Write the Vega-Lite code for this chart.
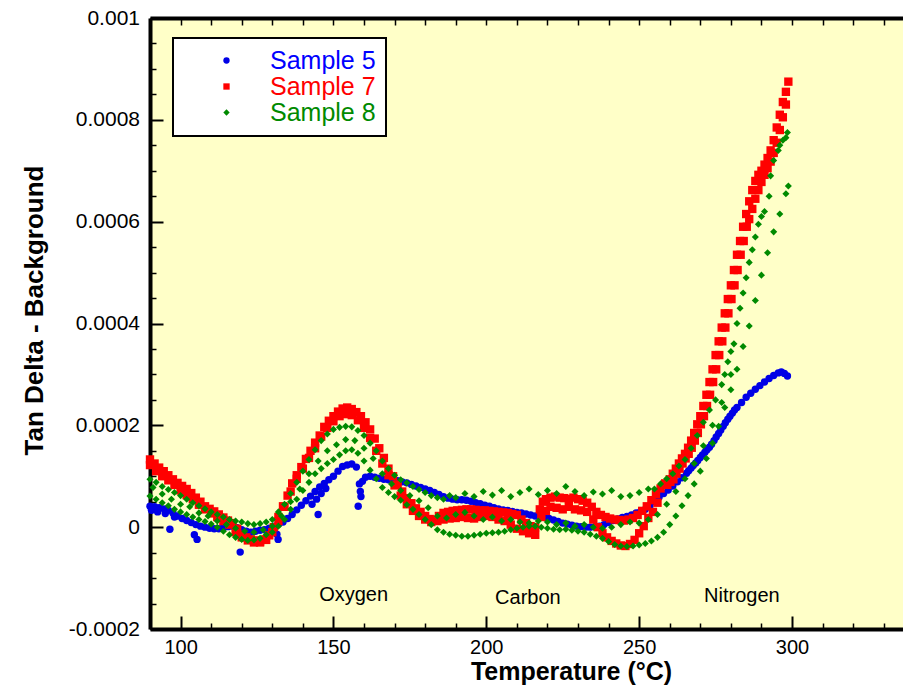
{
"$schema":"https://vega.github.io/schema/vega-lite/v6.json",
"width":753,"height":611,
"autosize":"none",
"padding":{"left":150,"top":18,"right":0,"bottom":57},
"background":"white",
"config":{"font":"Liberation Sans","view":{"fill":"#ffffc8","stroke":null},
 "axis":{"domainColor":"black","domainWidth":4,"tickColor":"black","labelColor":"black","titleColor":"black","grid":false,"labelFont":"Liberation Sans","titleFont":"Liberation Sans"},
 "legend":{"strokeWidth":2}},
"datasets":{
"s5":[{"t":90,"v":0.41e-4},{"t":91.5,"v":0.40e-4},{"t":93,"v":0.38e-4},{"t":94.5,"v":0.36e-4},{"t":96,"v":0.33e-4},{"t":97.5,"v":0.28e-4},{"t":99,"v":0.22e-4},{"t":100.5,"v":0.17e-4},{"t":102,"v":0.13e-4},{"t":103.5,"v":0.09e-4},{"t":105,"v":0.05e-4},{"t":106.5,"v":0.02e-4},{"t":108,"v":0},{"t":109.5,"v":-0.02e-4},{"t":111,"v":-0.03e-4},{"t":112.5,"v":-0.03e-4},{"t":114,"v":-0.01e-4},{"t":115.5,"v":0.01e-4},{"t":117,"v":0.02e-4},{"t":118.5,"v":-0.01e-4},{"t":120,"v":-0.05e-4},{"t":121.5,"v":-0.08e-4},{"t":123,"v":-0.10e-4},{"t":124.5,"v":-0.08e-4},{"t":126,"v":-0.06e-4},{"t":127.5,"v":-0.05e-4},{"t":129,"v":-0.02e-4},{"t":130.5,"v":0.02e-4},{"t":132,"v":0.06e-4},{"t":133.5,"v":0.10e-4},{"t":135,"v":0.17e-4},{"t":136.5,"v":0.25e-4},{"t":138,"v":0.34e-4},{"t":139.5,"v":0.43e-4},{"t":141,"v":0.52e-4},{"t":142.5,"v":0.61e-4},{"t":144,"v":0.70e-4},{"t":145.5,"v":0.79e-4},{"t":147,"v":0.86e-4},{"t":148.5,"v":0.93e-4},{"t":150,"v":1.00e-4},{"t":151.5,"v":1.10e-4},{"t":153,"v":1.19e-4},{"t":154.5,"v":1.22e-4},{"t":156,"v":1.24e-4},{"t":157.5,"v":1.18e-4},{"t":158.5,"v":0.85e-4},{"t":159.5,"v":0.90e-4},{"t":160.5,"v":0.98e-4},{"t":162,"v":1.00e-4},{"t":163.5,"v":0.98e-4},{"t":165,"v":0.96e-4},{"t":166.5,"v":0.94e-4},{"t":168,"v":0.93e-4},{"t":169.5,"v":0.92e-4},{"t":171,"v":0.91e-4},{"t":172.5,"v":0.89e-4},{"t":174,"v":0.87e-4},{"t":175.5,"v":0.84e-4},{"t":177,"v":0.81e-4},{"t":178.5,"v":0.78e-4},{"t":180,"v":0.75e-4},{"t":181.5,"v":0.72e-4},{"t":183,"v":0.68e-4},{"t":184.5,"v":0.64e-4},{"t":186,"v":0.60e-4},{"t":187.5,"v":0.57e-4},{"t":189,"v":0.55e-4},{"t":190.5,"v":0.54e-4},{"t":192,"v":0.54e-4},{"t":193.5,"v":0.53e-4},{"t":195,"v":0.51e-4},{"t":196.5,"v":0.48e-4},{"t":198,"v":0.46e-4},{"t":199.5,"v":0.43e-4},{"t":201,"v":0.41e-4},{"t":202.5,"v":0.38e-4},{"t":204,"v":0.36e-4},{"t":205.5,"v":0.34e-4},{"t":207,"v":0.33e-4},{"t":208.5,"v":0.31e-4},{"t":210,"v":0.29e-4},{"t":211.5,"v":0.28e-4},{"t":213,"v":0.26e-4},{"t":214.5,"v":0.24e-4},{"t":216,"v":0.22e-4},{"t":217.5,"v":0.21e-4},{"t":219,"v":0.19e-4},{"t":220.5,"v":0.17e-4},{"t":222,"v":0.14e-4},{"t":223.5,"v":0.11e-4},{"t":225,"v":0.08e-4},{"t":226.5,"v":0.06e-4},{"t":228,"v":0.04e-4},{"t":229.5,"v":0.02e-4},{"t":231,"v":0.01e-4},{"t":232.5,"v":0},{"t":234,"v":0},{"t":235.5,"v":0.01e-4},{"t":237,"v":0.02e-4},{"t":238.5,"v":0.05e-4},{"t":240,"v":0.09e-4},{"t":241.5,"v":0.13e-4},{"t":243,"v":0.16e-4},{"t":244.5,"v":0.19e-4},{"t":246,"v":0.21e-4},{"t":247.5,"v":0.24e-4},{"t":249,"v":0.28e-4},{"t":250.5,"v":0.31e-4},{"t":252,"v":0.35e-4},{"t":253.5,"v":0.41e-4},{"t":255,"v":0.50e-4},{"t":256.5,"v":0.59e-4},{"t":258,"v":0.66e-4},{"t":259.5,"v":0.73e-4},{"t":261,"v":0.81e-4},{"t":262.5,"v":0.89e-4},{"t":264,"v":0.97e-4},{"t":265.5,"v":1.06e-4},{"t":266.2,"v":1.11e-4},{"t":267,"v":1.16e-4},{"t":267.7,"v":1.21e-4},{"t":268.5,"v":1.26e-4},{"t":269.2,"v":1.31e-4},{"t":270,"v":1.37e-4},{"t":270.7,"v":1.42e-4},{"t":271.5,"v":1.47e-4},{"t":272.2,"v":1.52e-4},{"t":273,"v":1.57e-4},{"t":273.7,"v":1.63e-4},{"t":274.5,"v":1.70e-4},{"t":275.2,"v":1.77e-4},{"t":276,"v":1.84e-4},{"t":276.7,"v":1.91e-4},{"t":277.5,"v":1.98e-4},{"t":278.2,"v":2.05e-4},{"t":279,"v":2.12e-4},{"t":279.7,"v":2.18e-4},{"t":280.5,"v":2.24e-4},{"t":281.2,"v":2.30e-4},{"t":282,"v":2.35e-4},{"t":283.5,"v":2.45e-4},{"t":285,"v":2.55e-4},{"t":286.5,"v":2.63e-4},{"t":288,"v":2.71e-4},{"t":289.5,"v":2.78e-4},{"t":291,"v":2.85e-4},{"t":292.5,"v":2.92e-4},{"t":294,"v":2.98e-4},{"t":295.5,"v":3.03e-4},{"t":296.5,"v":3.05e-4},{"t":297.5,"v":3.02e-4},{"t":298.5,"v":2.97e-4},{"t":96.5,"v":-0.04e-4},{"t":104.5,"v":-0.15e-4},{"t":105.4,"v":-0.24e-4},{"t":119.5,"v":-0.49e-4},{"t":131.5,"v":-0.14e-4},{"t":131.9,"v":-0.24e-4},{"t":145,"v":0.25e-4},{"t":158.1,"v":0.41e-4},{"t":143,"v":0.45e-4},{"t":144.5,"v":0.55e-4},{"t":146,"v":0.66e-4},{"t":147.5,"v":0.76e-4},{"t":158.8,"v":0.70e-4},{"t":159,"v":0.60e-4},{"t":90.5,"v":0.33e-4},{"t":92.5,"v":0.30e-4},{"t":95,"v":0.27e-4},{"t":98,"v":0.20e-4}],
"s7":[{"t":90,"v":1.33e-4},{"t":91.5,"v":1.25e-4},{"t":93,"v":1.17e-4},{"t":94.5,"v":1.10e-4},{"t":96,"v":1.02e-4},{"t":97.5,"v":0.94e-4},{"t":99,"v":0.87e-4},{"t":100.5,"v":0.81e-4},{"t":102,"v":0.75e-4},{"t":103.5,"v":0.67e-4},{"t":105,"v":0.58e-4},{"t":106.5,"v":0.50e-4},{"t":108,"v":0.41e-4},{"t":109.5,"v":0.36e-4},{"t":111,"v":0.31e-4},{"t":112.5,"v":0.25e-4},{"t":114,"v":0.19e-4},{"t":115.5,"v":0.13e-4},{"t":117,"v":0.08e-4},{"t":118.5,"v":-0.03e-4},{"t":120,"v":-0.15e-4},{"t":121.5,"v":-0.20e-4},{"t":123,"v":-0.24e-4},{"t":124.5,"v":-0.26e-4},{"t":126,"v":-0.28e-4},{"t":127.5,"v":-0.24e-4},{"t":129,"v":-0.16e-4},{"t":130.5,"v":0},{"t":132,"v":0.20e-4},{"t":133.5,"v":0.41e-4},{"t":135,"v":0.62e-4},{"t":136.5,"v":0.86e-4},{"t":138,"v":1.02e-4},{"t":139.5,"v":1.18e-4},{"t":141,"v":1.34e-4},{"t":142.5,"v":1.50e-4},{"t":144,"v":1.66e-4},{"t":145.5,"v":1.80e-4},{"t":147,"v":1.97e-4},{"t":148.5,"v":2.09e-4},{"t":150,"v":2.18e-4},{"t":151.5,"v":2.27e-4},{"t":153,"v":2.33e-4},{"t":154.5,"v":2.35e-4},{"t":156,"v":2.32e-4},{"t":157.5,"v":2.26e-4},{"t":159,"v":2.18e-4},{"t":160.5,"v":2.06e-4},{"t":162,"v":1.92e-4},{"t":163.5,"v":1.74e-4},{"t":165,"v":1.55e-4},{"t":166.5,"v":1.36e-4},{"t":168,"v":1.15e-4},{"t":169.5,"v":1.00e-4},{"t":171,"v":0.84e-4},{"t":172.5,"v":0.70e-4},{"t":174,"v":0.57e-4},{"t":175.5,"v":0.47e-4},{"t":177,"v":0.37e-4},{"t":178.5,"v":0.30e-4},{"t":180,"v":0.22e-4},{"t":181.5,"v":0.16e-4},{"t":183,"v":0.14e-4},{"t":184.5,"v":0.22e-4},{"t":186,"v":0.28e-4},{"t":187.5,"v":0.30e-4},{"t":189,"v":0.32e-4},{"t":190.5,"v":0.33e-4},{"t":192,"v":0.34e-4},{"t":193.5,"v":0.35e-4},{"t":195,"v":0.35e-4},{"t":196.5,"v":0.34e-4},{"t":198,"v":0.33e-4},{"t":199.5,"v":0.33e-4},{"t":201,"v":0.32e-4},{"t":202.5,"v":0.31e-4},{"t":204,"v":0.30e-4},{"t":205.5,"v":0.29e-4},{"t":207,"v":0.28e-4},{"t":208.5,"v":0.26e-4},{"t":210,"v":0.24e-4},{"t":211.5,"v":0.15e-4},{"t":213,"v":0.08e-4},{"t":214.5,"v":0.02e-4},{"t":216,"v":0},{"t":217.5,"v":0.35e-4},{"t":218.5,"v":0.50e-4},{"t":219.5,"v":0.55e-4},{"t":221,"v":0.58e-4},{"t":222.5,"v":0.60e-4},{"t":224,"v":0.58e-4},{"t":225.5,"v":0.57e-4},{"t":227,"v":0.55e-4},{"t":228.5,"v":0.58e-4},{"t":230,"v":0.55e-4},{"t":231.5,"v":0.52e-4},{"t":233,"v":0.48e-4},{"t":234.5,"v":0.40e-4},{"t":236,"v":0.30e-4},{"t":237.5,"v":0.24e-4},{"t":239,"v":0.20e-4},{"t":240.5,"v":0.17e-4},{"t":242,"v":0.15e-4},{"t":243.5,"v":0.14e-4},{"t":245,"v":0.13e-4},{"t":246.5,"v":0.15e-4},{"t":248,"v":0.18e-4},{"t":249.5,"v":0.24e-4},{"t":251,"v":0.32e-4},{"t":252.5,"v":0.41e-4},{"t":254,"v":0.53e-4},{"t":255.5,"v":0.65e-4},{"t":257,"v":0.76e-4},{"t":258.5,"v":0.86e-4},{"t":260,"v":0.94e-4},{"t":261,"v":1.05e-4},{"t":262,"v":1.15e-4},{"t":263,"v":1.25e-4},{"t":264,"v":1.35e-4},{"t":265,"v":1.44e-4},{"t":266,"v":1.56e-4},{"t":267,"v":1.70e-4},{"t":268,"v":1.85e-4},{"t":269,"v":2.02e-4},{"t":270,"v":2.18e-4},{"t":271,"v":2.38e-4},{"t":272,"v":2.60e-4},{"t":273,"v":2.85e-4},{"t":274,"v":3.10e-4},{"t":275,"v":3.38e-4},{"t":276,"v":3.65e-4},{"t":277,"v":3.92e-4},{"t":278,"v":4.20e-4},{"t":279,"v":4.48e-4},{"t":280,"v":4.75e-4},{"t":281,"v":5.05e-4},{"t":282,"v":5.35e-4},{"t":283,"v":5.62e-4},{"t":284,"v":5.90e-4},{"t":285,"v":6.15e-4},{"t":286,"v":6.40e-4},{"t":287,"v":6.62e-4},{"t":288,"v":6.80e-4},{"t":289,"v":6.92e-4},{"t":290,"v":7.00e-4},{"t":291,"v":7.12e-4},{"t":292,"v":7.25e-4},{"t":293,"v":7.40e-4},{"t":294,"v":7.60e-4},{"t":295,"v":7.85e-4},{"t":296,"v":8.10e-4},{"t":297,"v":8.35e-4},{"t":298,"v":8.55e-4},{"t":298.8,"v":8.75e-4},
{"t":259.2,"v":0.83e-4},{"t":260.2,"v":0.89e-4},{"t":261.2,"v":0.94e-4},{"t":262.2,"v":1.05e-4},{"t":263.2,"v":1.15e-4},{"t":264.2,"v":1.25e-4},{"t":265.2,"v":1.35e-4},{"t":266.2,"v":1.44e-4},{"t":267.2,"v":1.56e-4},{"t":268.2,"v":1.70e-4},{"t":269.2,"v":1.85e-4},{"t":270.2,"v":2.02e-4},{"t":271.2,"v":2.18e-4},{"t":272.2,"v":2.38e-4},{"t":273.2,"v":2.60e-4},{"t":274.2,"v":2.85e-4},{"t":275.2,"v":3.10e-4},{"t":276.2,"v":3.38e-4},{"t":277.2,"v":3.65e-4},{"t":278.2,"v":3.92e-4},{"t":279.2,"v":4.20e-4},{"t":280.2,"v":4.48e-4},{"t":281.2,"v":4.75e-4},{"t":282.2,"v":5.05e-4},{"t":283.2,"v":5.35e-4},{"t":284.2,"v":5.62e-4},{"t":285.2,"v":5.90e-4},
{"t":90,"v":1.22e-4},{"t":92,"v":1.10e-4},{"t":94,"v":1.00e-4},{"t":96,"v":0.92e-4},{"t":98,"v":0.83e-4},{"t":100,"v":0.72e-4},{"t":102,"v":0.63e-4},{"t":104,"v":0.55e-4},{"t":106,"v":0.44e-4},{"t":108,"v":0.35e-4},{"t":110,"v":0.27e-4},{"t":112,"v":0.20e-4},{"t":114,"v":0.12e-4},{"t":116,"v":0.05e-4},{"t":118,"v":-0.10e-4},{"t":120,"v":-0.20e-4},{"t":122,"v":-0.26e-4},{"t":124,"v":-0.30e-4},{"t":126,"v":-0.30e-4},{"t":128,"v":-0.25e-4},{"t":130,"v":-0.10e-4},{"t":132,"v":0.12e-4},{"t":134,"v":0.40e-4},{"t":136,"v":0.70e-4},{"t":138,"v":0.95e-4},{"t":140,"v":1.15e-4},{"t":142,"v":1.36e-4},{"t":144,"v":1.55e-4},{"t":146,"v":1.78e-4},{"t":148,"v":1.95e-4},{"t":150,"v":2.08e-4},{"t":152,"v":2.18e-4},{"t":154,"v":2.22e-4},{"t":156,"v":2.20e-4},{"t":158,"v":2.10e-4},{"t":160,"v":1.95e-4},{"t":162,"v":1.75e-4},{"t":164,"v":1.50e-4},{"t":166,"v":1.25e-4},{"t":168,"v":1.02e-4},{"t":170,"v":0.82e-4},{"t":172,"v":0.62e-4},{"t":174,"v":0.45e-4},{"t":176,"v":0.32e-4},{"t":178,"v":0.22e-4},{"t":180,"v":0.15e-4},{"t":182,"v":0.10e-4},{"t":184,"v":0.12e-4},{"t":186,"v":0.15e-4},{"t":188,"v":0.17e-4},{"t":190,"v":0.18e-4},{"t":192,"v":0.20e-4},{"t":194,"v":0.18e-4},{"t":196,"v":0.17e-4},{"t":198,"v":0.20e-4},{"t":200,"v":0.22e-4},{"t":202,"v":0.20e-4},{"t":204,"v":0.15e-4},{"t":206,"v":0.12e-4},{"t":208,"v":0.05e-4},{"t":210,"v":-0.03e-4},{"t":212,"v":-0.08e-4},{"t":214,"v":-0.12e-4},{"t":216,"v":-0.15e-4},{"t":218,"v":0.20e-4},{"t":219.5,"v":0.32e-4},{"t":221,"v":0.40e-4},{"t":223,"v":0.38e-4},{"t":225,"v":0.35e-4},{"t":227,"v":0.40e-4},{"t":229,"v":0.35e-4},{"t":231,"v":0.33e-4},{"t":233,"v":0.30e-4},{"t":235,"v":0.15e-4},{"t":236.5,"v":0},{"t":238,"v":-0.12e-4},{"t":239.5,"v":-0.20e-4},{"t":241,"v":-0.27e-4},{"t":242.5,"v":-0.32e-4},{"t":244,"v":-0.36e-4},{"t":245.5,"v":-0.37e-4},{"t":247,"v":-0.33e-4},{"t":248.5,"v":-0.25e-4},{"t":250,"v":-0.12e-4},{"t":251.5,"v":0.02e-4},{"t":253,"v":0.18e-4},{"t":254.5,"v":0.30e-4},{"t":256,"v":0.48e-4},{"t":286,"v":6.05e-4},{"t":287,"v":6.25e-4},{"t":288,"v":6.45e-4},{"t":289,"v":6.62e-4},{"t":290,"v":6.78e-4},{"t":291,"v":6.92e-4},{"t":292,"v":7.05e-4},{"t":293,"v":7.18e-4},{"t":294,"v":7.35e-4},{"t":295,"v":7.55e-4},{"t":296,"v":7.80e-4},{"t":297,"v":8.05e-4},{"t":298,"v":8.30e-4}],
"s8":[{"t":90,"v":0.94e-4},{"t":92,"v":0.88e-4},{"t":94,"v":0.80e-4},{"t":96,"v":0.74e-4},{"t":98,"v":0.68e-4},{"t":100,"v":0.62e-4},{"t":102,"v":0.55e-4},{"t":104,"v":0.48e-4},{"t":106,"v":0.42e-4},{"t":108,"v":0.36e-4},{"t":110,"v":0.30e-4},{"t":112,"v":0.25e-4},{"t":114,"v":0.20e-4},{"t":116,"v":0.15e-4},{"t":118,"v":0.12e-4},{"t":120,"v":0.10e-4},{"t":122,"v":0.07e-4},{"t":124,"v":0.05e-4},{"t":126,"v":0.07e-4},{"t":128,"v":0.10e-4},{"t":130,"v":0.15e-4},{"t":132,"v":0.30e-4},{"t":134,"v":0.45e-4},{"t":136,"v":0.66e-4},{"t":138,"v":0.88e-4},{"t":140,"v":1.10e-4},{"t":142,"v":1.33e-4},{"t":144,"v":1.52e-4},{"t":146,"v":1.70e-4},{"t":148,"v":1.83e-4},{"t":150,"v":1.92e-4},{"t":152,"v":1.96e-4},{"t":154,"v":1.98e-4},{"t":156,"v":1.97e-4},{"t":158,"v":1.90e-4},{"t":160,"v":1.80e-4},{"t":162,"v":1.65e-4},{"t":164,"v":1.50e-4},{"t":166,"v":1.30e-4},{"t":168,"v":1.15e-4},{"t":170,"v":1.02e-4},{"t":172,"v":0.93e-4},{"t":174,"v":0.87e-4},{"t":176,"v":0.80e-4},{"t":178,"v":0.74e-4},{"t":180,"v":0.68e-4},{"t":182,"v":0.62e-4},{"t":184,"v":0.58e-4},{"t":186,"v":0.55e-4},{"t":188,"v":0.62e-4},{"t":190,"v":0.58e-4},{"t":193,"v":0.66e-4},{"t":196,"v":0.60e-4},{"t":199,"v":0.70e-4},{"t":202,"v":0.63e-4},{"t":205,"v":0.72e-4},{"t":208,"v":0.60e-4},{"t":211,"v":0.68e-4},{"t":214,"v":0.75e-4},{"t":217,"v":0.64e-4},{"t":220,"v":0.72e-4},{"t":223,"v":0.66e-4},{"t":226,"v":0.80e-4},{"t":229,"v":0.70e-4},{"t":232,"v":0.62e-4},{"t":235,"v":0.69e-4},{"t":238,"v":0.65e-4},{"t":241,"v":0.72e-4},{"t":244,"v":0.60e-4},{"t":247,"v":0.62e-4},{"t":250,"v":0.68e-4},{"t":253,"v":0.75e-4},{"t":255,"v":0.75e-4},{"t":257,"v":0.85e-4},{"t":259,"v":0.95e-4},{"t":261,"v":1.05e-4},{"t":263,"v":1.20e-4},{"t":265,"v":1.33e-4},{"t":267,"v":1.55e-4},{"t":269,"v":1.80e-4},{"t":271,"v":2.06e-4},{"t":273,"v":2.30e-4},{"t":275,"v":2.50e-4},{"t":277,"v":2.80e-4},{"t":278,"v":3.00e-4},{"t":279,"v":3.25e-4},{"t":280,"v":3.45e-4},{"t":281,"v":3.60e-4},{"t":282,"v":4.00e-4},{"t":283,"v":4.30e-4},{"t":284,"v":4.60e-4},{"t":285,"v":4.90e-4},{"t":286,"v":5.20e-4},{"t":287,"v":5.45e-4},{"t":288,"v":5.70e-4},{"t":289,"v":5.95e-4},{"t":290,"v":6.10e-4},{"t":291,"v":6.20e-4},{"t":292.5,"v":6.50e-4},{"t":293,"v":6.90e-4},{"t":294,"v":7.20e-4},{"t":295.5,"v":7.40e-4},{"t":296,"v":7.50e-4},{"t":297,"v":7.60e-4},{"t":298,"v":7.65e-4},{"t":298.5,"v":7.75e-4},
{"t":90,"v":0.61e-4},{"t":92,"v":0.55e-4},{"t":94,"v":0.48e-4},{"t":96,"v":0.42e-4},{"t":98,"v":0.35e-4},{"t":100,"v":0.30e-4},{"t":102,"v":0.25e-4},{"t":104,"v":0.20e-4},{"t":106,"v":0.15e-4},{"t":108,"v":0.11e-4},{"t":110,"v":0.06e-4},{"t":112,"v":0},{"t":114,"v":-0.08e-4},{"t":116,"v":-0.15e-4},{"t":118,"v":-0.20e-4},{"t":120,"v":-0.24e-4},{"t":122,"v":-0.26e-4},{"t":124,"v":-0.25e-4},{"t":126,"v":-0.22e-4},{"t":128,"v":-0.15e-4},{"t":130,"v":-0.10e-4},{"t":132,"v":0.02e-4},{"t":134,"v":0.15e-4},{"t":136,"v":0.35e-4},{"t":138,"v":0.55e-4},{"t":140,"v":0.72e-4},{"t":142,"v":0.88e-4},{"t":144,"v":1.05e-4},{"t":146,"v":1.15e-4},{"t":148,"v":1.25e-4},{"t":150,"v":1.33e-4},{"t":152,"v":1.42e-4},{"t":154,"v":1.50e-4},{"t":156,"v":1.52e-4},{"t":158,"v":1.45e-4},{"t":160,"v":1.30e-4},{"t":162,"v":1.12e-4},{"t":164,"v":0.95e-4},{"t":166,"v":0.78e-4},{"t":168,"v":0.68e-4},{"t":170,"v":0.60e-4},{"t":172,"v":0.53e-4},{"t":174,"v":0.44e-4},{"t":176,"v":0.35e-4},{"t":178,"v":0.25e-4},{"t":180,"v":0.15e-4},{"t":182,"v":0.05e-4},{"t":184,"v":-0.05e-4},{"t":186,"v":-0.10e-4},{"t":188,"v":-0.14e-4},{"t":190,"v":-0.16e-4},{"t":192,"v":-0.18e-4},{"t":194,"v":-0.18e-4},{"t":196,"v":-0.16e-4},{"t":198,"v":-0.14e-4},{"t":200,"v":-0.12e-4},{"t":202,"v":-0.11e-4},{"t":204,"v":-0.10e-4},{"t":206,"v":-0.08e-4},{"t":208,"v":-0.05e-4},{"t":210,"v":-0.02e-4},{"t":212,"v":0},{"t":214,"v":0.02e-4},{"t":216,"v":0.02e-4},{"t":218,"v":0},{"t":220,"v":-0.02e-4},{"t":222,"v":-0.04e-4},{"t":224,"v":-0.05e-4},{"t":226,"v":-0.04e-4},{"t":228,"v":-0.06e-4},{"t":230,"v":-0.08e-4},{"t":232,"v":-0.10e-4},{"t":234,"v":-0.14e-4},{"t":236,"v":-0.18e-4},{"t":238,"v":-0.22e-4},{"t":240,"v":-0.28e-4},{"t":242,"v":-0.34e-4},{"t":244,"v":-0.37e-4},{"t":246,"v":-0.38e-4},{"t":248,"v":-0.37e-4},{"t":250,"v":-0.35e-4},{"t":252,"v":-0.32e-4},{"t":254,"v":-0.27e-4},{"t":256,"v":-0.20e-4},{"t":258,"v":-0.10e-4},{"t":260,"v":0.05e-4},{"t":262,"v":0.22e-4},{"t":264,"v":0.42e-4},{"t":266,"v":0.62e-4},{"t":268,"v":0.85e-4},{"t":270,"v":1.10e-4},{"t":272,"v":1.35e-4},{"t":274,"v":1.65e-4},{"t":276,"v":1.98e-4},{"t":278,"v":2.35e-4},{"t":280,"v":2.70e-4},{"t":282,"v":3.10e-4},{"t":284,"v":3.55e-4},{"t":286,"v":3.95e-4},{"t":288,"v":4.45e-4},{"t":290,"v":4.95e-4},{"t":292,"v":5.39e-4},{"t":294,"v":5.80e-4},{"t":296,"v":6.15e-4},{"t":298,"v":6.55e-4},{"t":298.8,"v":6.70e-4},
{"t":91,"v":0.78e-4},{"t":94,"v":0.65e-4},{"t":97,"v":0.55e-4},{"t":100,"v":0.45e-4},{"t":103,"v":0.40e-4},{"t":106,"v":0.28e-4},{"t":109,"v":0.22e-4},{"t":112,"v":0.12e-4},{"t":115,"v":0.05e-4},{"t":118,"v":-0.02e-4},{"t":121,"v":-0.08e-4},{"t":124,"v":-0.10e-4},{"t":127,"v":-0.05e-4},{"t":130,"v":0.02e-4},{"t":133,"v":0.22e-4},{"t":136,"v":0.50e-4},{"t":139,"v":0.75e-4},{"t":142,"v":1.05e-4},{"t":145,"v":1.30e-4},{"t":148,"v":1.50e-4},{"t":151,"v":1.62e-4},{"t":154,"v":1.72e-4},{"t":157,"v":1.70e-4},{"t":160,"v":1.55e-4},{"t":163,"v":1.35e-4},{"t":166,"v":1.05e-4},{"t":169,"v":0.85e-4},{"t":172,"v":0.72e-4},{"t":175,"v":0.62e-4},{"t":178,"v":0.52e-4},{"t":181,"v":0.38e-4},{"t":184,"v":0.22e-4},{"t":187,"v":0.18e-4},{"t":190,"v":0.25e-4},{"t":193,"v":0.29e-4},{"t":196,"v":0.22e-4},{"t":199,"v":0.15e-4},{"t":202,"v":0.20e-4},{"t":205,"v":0.12e-4},{"t":208,"v":0.15e-4},{"t":211,"v":0.10e-4},{"t":214,"v":0.08e-4},{"t":217,"v":0.12e-4},{"t":220,"v":0.10e-4},{"t":223,"v":0.05e-4},{"t":226,"v":0.08e-4},{"t":229,"v":0.02e-4},{"t":232,"v":0.05e-4},{"t":235,"v":0},{"t":238,"v":-0.02e-4},{"t":241,"v":0},{"t":244,"v":0.05e-4},{"t":247,"v":0.10e-4},{"t":250,"v":0.08e-4},{"t":253,"v":0.15e-4},{"t":256,"v":0.25e-4},{"t":259,"v":0.45e-4},{"t":262,"v":0.70e-4},{"t":265,"v":0.95e-4},{"t":268,"v":1.25e-4},{"t":271,"v":1.60e-4},{"t":274,"v":2.00e-4},{"t":277,"v":2.45e-4},{"t":280,"v":3.00e-4}],
"notes":[{"t":156.6,"v":-1.45e-4,"label":"Oxygen"},{"t":213.6,"v":-1.51e-4,"label":"Carbon"},{"t":283.6,"v":-1.46e-4,"label":"Nitrogen"}]
},
"layer":[
{"data":{"name":"s5"},"mark":{"type":"point","filled":true,"size":55,"opacity":1},
 "encoding":{
  "x":{"field":"t","type":"quantitative","scale":{"domain":[90,336.3],"nice":false,"zero":false},
   "axis":{"orient":"bottom","title":"Temperature (°C)","values":[100,150,200,250,300],
    "labelFontSize":20,"labelPadding":21,"labelFlush":false,"labelOverlap":false,"tickSize":-13,"tickWidth":2,
    "titleFontSize":25,"titleFontWeight":"bold","titleX":421,"titleY":50,"titleBaseline":"alphabetic","titleAlign":"center"}},
  "y":{"field":"v","type":"quantitative","scale":{"domain":[-0.0002,0.001],"nice":false,"zero":false},
   "axis":{"orient":"left","title":"Tan Delta - Background","values":[-0.0002,0,0.0002,0.0004,0.0006,0.0008,0.001],
    "labelExpr":"toString(datum.value)","labelFontSize":21,"labelPadding":23.5,"labelFlush":false,"labelOverlap":false,"tickSize":-13,"tickWidth":2,
    "titleFontSize":26,"titleFontWeight":"bold","titleX":-108,"titleY":292,"titleBaseline":"alphabetic","titleAlign":"center","titleAngle":270}},
  "color":{"datum":"Sample 5","type":"nominal","scale":{"domain":["Sample 5","Sample 7","Sample 8"],"range":["#0000e6","#ff0000","#008a00"]},
   "legend":{"title":null,"orient":"none","legendX":23,"legendY":20,"fillColor":"white","strokeColor":"black","padding":10,"labelFontSize":25,"labelFont":"Liberation Sans","symbolSize":40,"rowPadding":0,"labelOffset":31,"symbolOffset":31,"cornerRadius":0,
    "labelColor":{"expr":"datum.value === 'Sample 5' ? '#0000ff' : datum.value === 'Sample 7' ? '#ff0000' : '#008a00'"}}},
  "shape":{"datum":"Sample 5","type":"nominal","scale":{"domain":["Sample 5","Sample 7","Sample 8"],"range":["circle","square","diamond"]},
   "legend":{"title":null,"orient":"none","legendX":23,"legendY":20,"fillColor":"white","strokeColor":"black","padding":10,"labelFontSize":25,"labelFont":"Liberation Sans","symbolSize":40,"rowPadding":0,"labelOffset":31,"symbolOffset":31,"cornerRadius":0,
    "labelColor":{"expr":"datum.value === 'Sample 5' ? '#0000ff' : datum.value === 'Sample 7' ? '#ff0000' : '#008a00'"}}}
 }},
{"data":{"name":"s7"},"mark":{"type":"point","filled":true,"size":70,"opacity":1},
 "encoding":{
  "x":{"field":"t","type":"quantitative","axis":{"orient":"bottom","title":null,"labels":false,"domain":false,"values":[90,110,120,130,140,160,170,180,190,210,220,230,240,260,270,280,290,310,320,330],"tickSize":-6,"tickWidth":1.5}},
  "y":{"field":"v","type":"quantitative","axis":{"orient":"left","title":null,"labels":false,"domain":false,"values":[-0.00015,-0.0001,-0.00005,0.00005,0.0001,0.00015,0.00025,0.0003,0.00035,0.00045,0.0005,0.00055,0.00065,0.0007,0.00075,0.00085,0.0009,0.00095],"tickSize":-6,"tickWidth":1.5}},
  "color":{"datum":"Sample 7","type":"nominal"},"shape":{"datum":"Sample 7","type":"nominal"}}},
{"data":{"name":"s8"},"mark":{"type":"point","filled":true,"size":50,"opacity":1},
 "encoding":{
  "x":{"field":"t","type":"quantitative","axis":{"orient":"top","title":null,"labels":false,"values":[90,100,110,120,130,140,150,160,170,180,190,200,210,220,230,240,250,260,270,280,290,300,310,320,330],"tickSize":-7,"tickWidth":1.5}},
  "y":{"field":"v","type":"quantitative","axis":null},
  "color":{"datum":"Sample 8","type":"nominal"},"shape":{"datum":"Sample 8","type":"nominal"}}},
{"data":{"name":"notes"},"mark":{"type":"text","fontSize":20,"font":"Liberation Sans","align":"center","baseline":"alphabetic","color":"black"},
 "encoding":{"x":{"field":"t","type":"quantitative","axis":null},
  "y":{"field":"v","type":"quantitative","axis":null},"text":{"field":"label"}}}
],
"resolve":{"axis":{"x":"independent","y":"independent"}}
}
